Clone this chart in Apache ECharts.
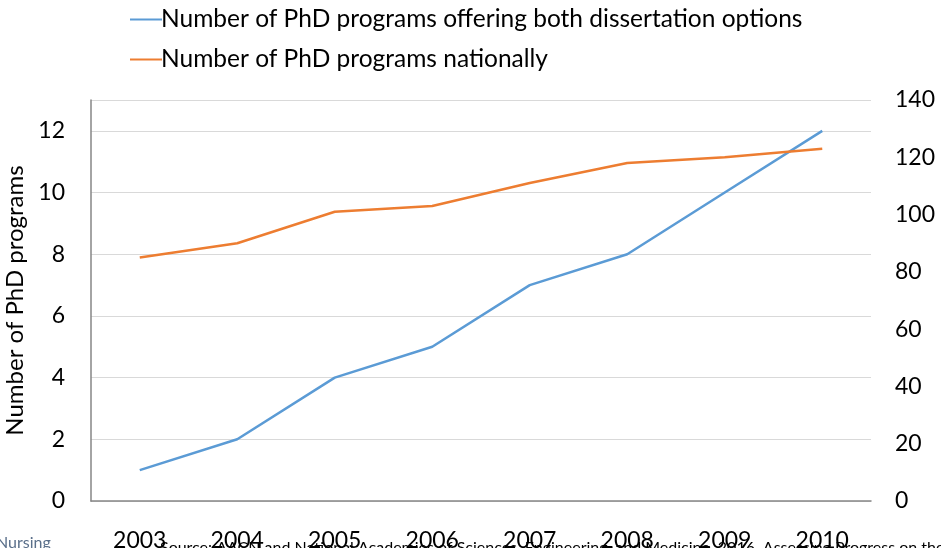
<!DOCTYPE html>
<html>
<head>
<meta charset="utf-8">
<script src="https://cdn.jsdelivr.net/npm/echarts@6/dist/echarts.min.js"></script>
<style>
  html, body { margin: 0; padding: 0; background: #fff; }
  #chart { width: 941px; height: 548px; }
</style>
</head>
<body>
<div id="chart"></div>
<script>
// data
const years = ['2003', '2004', '2005', '2006', '2007', '2008', '2009', '2010']
const bothOptions = [1, 2, 4, 5, 7, 8, 10, 12]
const national = [85, 90, 101, 103, 111, 118, 120, 123]
const leftTicks = [0, 2, 4, 6, 8, 10, 12]
const rightTicks = [0, 20, 40, 60, 80, 100, 120, 140]

const font = 'Lato, "Open Sans", sans-serif'
const chart = echarts.init(document.getElementById('chart'))

chart.setOption({
  animation: false,
  textStyle: { fontFamily: font },
  grid: { left: 91, right: 70, top: 100, bottom: 47, containLabel: false, outerBoundsMode: 'none' },
  legend: {
    orient: 'vertical',
    left: 125,
    top: 2,
    itemGap: 15,
    itemWidth: 32,
    itemHeight: 2,
    icon: 'rect',
    textStyle: { fontSize: 24.5, color: '#000', fontFamily: font, padding: [0, 0, 0, -6] },
    data: ['Number of PhD programs offering both dissertation options', 'Number of PhD programs nationally']
  },
  xAxis: {
    type: 'category',
    data: years,
    boundaryGap: true,
    axisLine: { lineStyle: { color: '#868686', width: 1.5 } },
    axisTick: { show: false },
    axisLabel: { fontSize: 23, color: '#000', margin: 28 }
  },
  yAxis: [
    {
      type: 'value',
      min: 0,
      max: 13,
      interval: 2,
      name: 'Number of PhD programs',
      nameLocation: 'middle',
      nameRotate: 90,
      nameGap: 60,
      nameTextStyle: { fontSize: 24, color: '#000', fontFamily: font },
      axisLine: { show: true, lineStyle: { color: '#868686', width: 1.5 } },
      axisTick: { show: false },
      splitLine: { lineStyle: { color: '#d9d9d9', width: 1 } },
      axisLabel: {
        fontSize: 23, color: '#000', margin: 26,
        formatter: v => (leftTicks.includes(v) ? String(v) : '')
      }
    },
    {
      type: 'value',
      min: 0,
      max: 140,
      interval: 20,
      position: 'right',
      axisLine: { show: false },
      axisTick: { show: false },
      splitLine: { show: false },
      axisLabel: {
        fontSize: 23, color: '#000', margin: 24, align: 'left',
        formatter: v => (rightTicks.includes(v) ? String(v) : '')
      }
    }
  ],
  series: [
    {
      name: 'Number of PhD programs offering both dissertation options',
      type: 'line',
      data: bothOptions,
      yAxisIndex: 0,
      symbol: 'none',
      color: '#5B9BD5',
      lineStyle: { width: 2.5, color: '#5B9BD5' }
    },
    {
      name: 'Number of PhD programs nationally',
      type: 'line',
      data: national,
      yAxisIndex: 1,
      symbol: 'none',
      color: '#ED7D31',
      lineStyle: { width: 2.5, color: '#ED7D31' }
    }
  ],
  graphic: [
    {
      type: 'text', left: -4, top: 535,
      style: { text: 'Nursing', fontSize: 16, fill: '#5a6f8a', fontFamily: font }
    },
    {
      type: 'text', left: 160, top: 540,
      style: {
        text: 'Source: AACN and National Academies of Sciences, Engineering, and Medicine. 2016. Assessing Progress on the Institute of Medicine Report',
        fontSize: 16, fill: '#000', fontFamily: font
      }
    }
  ]
})
</script>
</body>
</html>
